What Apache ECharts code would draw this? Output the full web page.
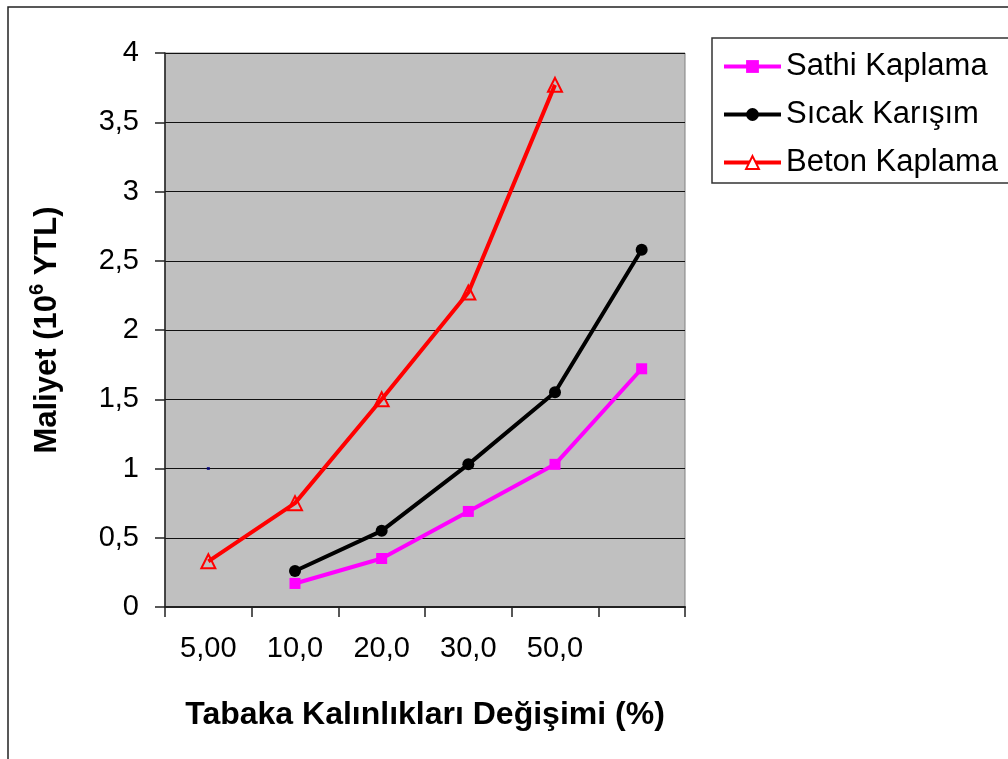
<!DOCTYPE html>
<html>
<head>
<meta charset="utf-8">
<script src="https://cdn.jsdelivr.net/npm/echarts@6/dist/echarts.min.js"></script>
<style>
  html, body { margin: 0; padding: 0; background: #fff; }
  #chart { width: 1008px; height: 759px; }
</style>
</head>
<body>
<div id="chart"></div>
<script>
// Layer thickness change categories (last slot carries no label)
const categories = ['5,00', '10,0', '20,0', '30,0', '50,0', ''];

// Cost values, 10^6 YTL
const sathiKaplama = [null, 0.17, 0.35, 0.69, 1.03, 1.72];
const sicakKarisim = [null, 0.26, 0.55, 1.03, 1.55, 2.58];
const betonKaplama = [0.33, 0.75, 1.50, 2.27, 3.77, null];

// Stray point at the first category
const strayPoint = [['5,00', 1.0]];

const FONT = '"Liberation Sans", Arial, sans-serif';

const chart = echarts.init(document.getElementById('chart'));

chart.setOption({
  animation: false,
  backgroundColor: '#ffffff',
  textStyle: { fontFamily: FONT },
  graphic: [{
    type: 'rect',
    shape: { x: 8, y: 7, width: 1100, height: 800 },
    style: { fill: 'none', stroke: '#222', lineWidth: 1.5 },
    silent: true,
    z: -1
  }],
  grid: {
    left: 165, top: 53, width: 520, height: 554,
    show: true,
    backgroundColor: '#C0C0C0',
    borderColor: '#808080',
    borderWidth: 1
  },
  legend: {
    orient: 'vertical',
    left: 712, top: 38,
    padding: [13, 60, 5, 10],
    itemWidth: 57, itemHeight: 16, itemGap: 17,
    borderColor: '#333', borderWidth: 1.5,
    backgroundColor: '#fff',
    lineStyle: { width: 4 },
    textStyle: { fontFamily: FONT, fontSize: 31, color: '#000' },
    data: [
      { name: 'Sathi Kaplama' },
      { name: 'Sıcak Karışım' },
      { name: 'Beton Kaplama', itemStyle: { color: '#fff', borderColor: '#FF0000', borderWidth: 2 } }
    ]
  },
  xAxis: {
    type: 'category',
    data: categories,
    boundaryGap: true,
    name: 'Tabaka Kalınlıkları Değişimi (%)',
    nameLocation: 'middle',
    nameGap: 92,
    nameTextStyle: { fontFamily: FONT, fontSize: 32, fontWeight: 'bold', color: '#000' },
    axisLine: { show: true, lineStyle: { color: '#222', width: 2 } },
    axisTick: { show: true, interval: 0, length: 10, inside: false, lineStyle: { color: '#222', width: 1.5 } },
    axisLabel: { interval: 0, margin: 27, fontSize: 29, color: '#000', fontFamily: FONT },
    splitLine: { show: false }
  },
  yAxis: {
    type: 'value',
    min: 0, max: 4, interval: 0.5,
    name: '{t|Maliyet (10}{sup|6}{t| YTL)}',
    nameLocation: 'middle',
    nameRotate: 90,
    nameGap: 102,
    nameTextStyle: {
      rich: {
        t: { fontFamily: FONT, fontSize: 31, fontWeight: 'bold', color: '#000', lineHeight: 36, verticalAlign: 'bottom' },
        sup: { fontFamily: FONT, fontSize: 20, fontWeight: 'bold', color: '#000', lineHeight: 36, verticalAlign: 'top' }
      }
    },
    axisLine: { show: true, lineStyle: { color: '#222', width: 1.5 } },
    axisTick: { show: true, length: 10, lineStyle: { color: '#222', width: 1.5 } },
    axisLabel: {
      margin: 26, fontSize: 29, color: '#000', fontFamily: FONT,
      formatter: v => String(v).replace('.', ',')
    },
    splitLine: { show: true, lineStyle: { color: '#111', width: 1 } }
  },
  series: [
    {
      name: 'Sathi Kaplama',
      type: 'line',
      data: sathiKaplama,
      color: '#FF00FF',
      symbol: 'rect', symbolSize: 11,
      lineStyle: { color: '#FF00FF', width: 4 },
      itemStyle: { color: '#FF00FF' },
      z: 3
    },
    {
      name: 'Sıcak Karışım',
      type: 'line',
      data: sicakKarisim,
      color: '#000000',
      symbol: 'circle', symbolSize: 12,
      lineStyle: { color: '#000000', width: 4 },
      itemStyle: { color: '#000000' },
      z: 4
    },
    {
      name: 'Beton Kaplama',
      type: 'line',
      data: betonKaplama,
      color: '#FF0000',
      symbol: 'triangle', symbolSize: 14,
      lineStyle: { color: '#FF0000', width: 4 },
      itemStyle: { color: 'rgba(0,0,0,0)', borderColor: '#FF0000', borderWidth: 2 },
      z: 5
    },
    {
      name: 'stray',
      type: 'scatter',
      data: strayPoint,
      symbol: 'rect', symbolSize: 3,
      itemStyle: { color: '#000080' },
      silent: true,
      z: 6
    }
  ]
});
</script>
</body>
</html>
